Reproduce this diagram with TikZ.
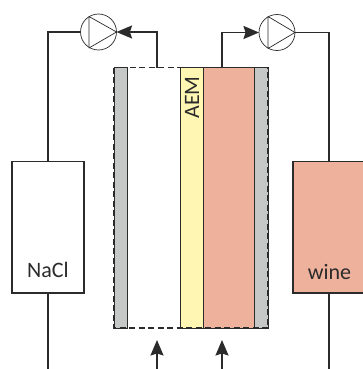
\documentclass[tikz,border=0pt]{standalone}
\usepackage{fontspec}
\setmainfont{Carlito}
\usetikzlibrary{arrows.meta}
\definecolor{salmon}{HTML}{EDB19C}
\definecolor{memb}{HTML}{FFF6B4}
\definecolor{grayel}{HTML}{C6C8C8}
\definecolor{ink}{HTML}{2B2B2B}
\tikzset{
  x=1pt,y=-1pt,
  pipe/.style={draw=ink,line width=1.7pt},
  flow/.style={pipe,-{Stealth[length=15.5pt,width=13pt,inset=2pt]}},
  tank/.style={draw=ink,line width=1.6pt,minimum width=72.5pt,minimum height=131.5pt,inner sep=0pt,outer sep=0pt},
  pumpc/.style={circle,draw=ink,line width=0.7pt,minimum size=36pt,inner sep=0pt,outer sep=0pt,fill=white},
  lab/.style={font=\fontsize{22}{26}\selectfont,text=ink,inner sep=0pt},
  part/.style={line width=0.7pt,draw=ink}
}
\begin{document}
\begin{tikzpicture}
\useasboundingbox (0,0) rectangle (362,369);
\fill[white] (0,0) rectangle (362,369);
% cell layers
\path[part,fill=grayel] (114,67.5) rectangle (127.5,328);
\path[fill=white] (127.5,67.5) rectangle (180,328);
\path[part,fill=memb] (180,67.5) rectangle (203.5,328);
\path[part,fill=salmon] (203.5,67.5) rectangle (254.5,328);
\path[part,fill=grayel] (254.5,67.5) rectangle (268,328);
\draw[ink,line width=1.3pt,dash pattern=on 6pt off 3.5pt,fill=none] (114,67.5) rectangle (268,328);
\coordinate (cellTL) at (157,67.5);
\coordinate (cellTR) at (222,67.5);
\coordinate (inL) at (157,369);
\coordinate (inR) at (222,369);
\coordinate (tipL) at (157,340);
\coordinate (tipR) at (222,340);
\coordinate (outNaCl) at (48,369);
\coordinate (outWine) at (329,369);
% tanks
\node[tank,fill=white] (nacl) at (48,227.25) {};
\path[pipe,fill=salmon] (293,161.5) rectangle (372,293);
\coordinate (wineTop) at (329,161.5);
\coordinate (wineBot) at (329,293);
\node[lab] (naclt) at (48,270) {NaCl};
\node[lab] (winet) at (329.5,272) {wine};
\node[lab,rotate=90] (aem) at (192,97.5) {AEM};
% pumps
\node[pumpc] (p1) at (98.5,32) {};
\node[pumpc] (p2) at (277,32.5) {};
\draw[ink,line width=0.7pt,line join=round] (89,16.5) -- (116.5,32) -- (89,48) -- cycle;
\draw[ink,line width=0.7pt,line join=round] (268,16.5) -- (295,32.5) -- (268,48.5) -- cycle;
% pipes
\draw[pipe] (nacl.north) -- (48,32) -- (p1.west);
\draw[flow] (cellTL) -- (157,32) -- (p1.east);
\draw[flow] (cellTR) -- (222,32.5) -- (p2.west);
\draw[pipe] (p2.east) -- (329,32.5) -- (wineTop);
\draw[pipe] (nacl.south) -- (outNaCl);
\draw[pipe] (wineBot) -- (outWine);
\draw[flow] (inL) -- (tipL);
\draw[flow] (inR) -- (tipR);
\end{tikzpicture}
\end{document}
